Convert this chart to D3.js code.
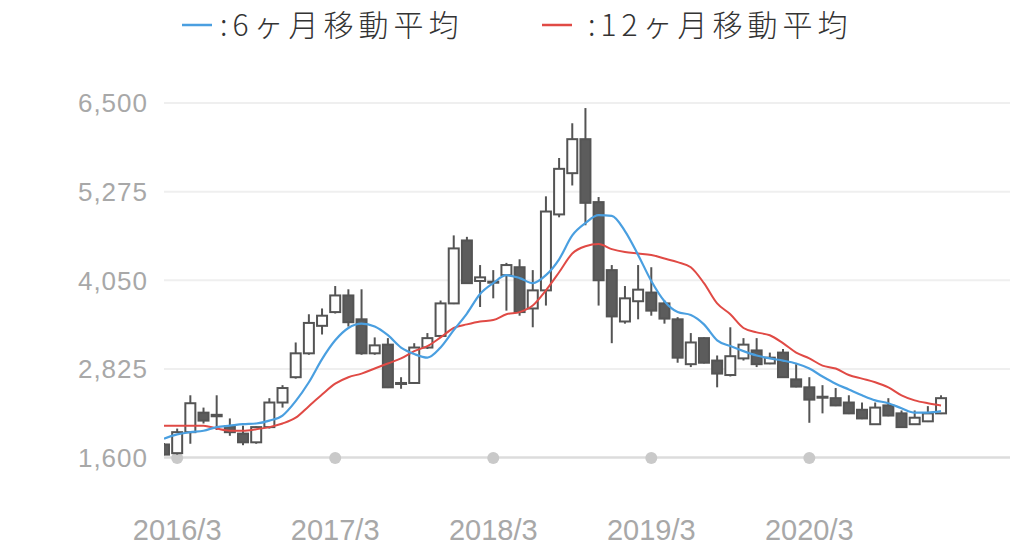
<!DOCTYPE html>
<html lang="ja">
<head>
    <meta charset="UTF-8" />
    <title>月足チャート</title>
    <script src="https://d3js.org/d3.v7.min.js"></script>
    <style>
        body { margin: 0; background: #fff; }
        svg { display: block; }
    </style>
</head>

<body>
    <script>
        // monthly candles 2016/2 .. 2021/1
        var months = [
            "2016/2","2016/3","2016/4","2016/5","2016/6","2016/7","2016/8","2016/9","2016/10","2016/11","2016/12",
            "2017/1","2017/2","2017/3","2017/4","2017/5","2017/6","2017/7","2017/8","2017/9","2017/10","2017/11","2017/12",
            "2018/1","2018/2","2018/3","2018/4","2018/5","2018/6","2018/7","2018/8","2018/9","2018/10","2018/11","2018/12",
            "2019/1","2019/2","2019/3","2019/4","2019/5","2019/6","2019/7","2019/8","2019/9","2019/10","2019/11","2019/12",
            "2020/1","2020/2","2020/3","2020/4","2020/5","2020/6","2020/7","2020/8","2020/9","2020/10","2020/11","2020/12",
            "2021/1"
        ];
        var openVals  = [1780,1660,1950,2220,2170,2030,1930,1810,2020,2360,2710,3040,3420,3610,3840,3510,3040,3160,2620,2630,3120,3280,3730,4600,4040,4020,4120,4230,3660,3910,4960,5530,6000,5130,4190,3480,3760,3880,3730,3510,2890,3250,2940,2740,2970,3080,2900,3050,2680,2570,2430,2420,2360,2260,2060,2320,2210,2060,2100,2210];
        var highVals  = [1800,2000,2460,2290,2460,2140,2040,2030,2420,2600,3190,3580,3660,3970,3925,3925,3260,3250,2710,3180,3320,3770,4670,4650,4260,4190,4290,4340,4190,5210,5740,6220,6430,5200,4260,3970,4260,4230,3770,3540,3320,3260,3010,3400,3250,3250,3050,3100,2890,2710,2600,2560,2460,2360,2360,2420,2250,2250,2310,2460];
        var lowVals   = [1630,1640,1790,2070,1980,1900,1770,1790,2000,2290,2690,3020,3300,3590,3410,3020,3020,2560,2550,2620,3100,3260,3720,4000,3680,3800,3630,3560,3400,3700,4920,5360,4810,3700,3180,3450,3510,3560,3450,2910,2850,2900,2570,2720,2940,2850,2890,2700,2570,2080,2210,2310,2200,2130,2050,2170,2010,2050,2090,2200];
        var closeVals = [1640,1950,2350,2110,2190,1950,1810,2020,2360,2560,3040,3460,3560,3840,3470,3040,3150,2570,2630,3120,3250,3730,4490,4010,4090,4030,4260,3610,3910,5000,5590,6000,5120,4050,3550,3800,3920,3630,3520,2980,3190,2910,2760,3000,3160,2890,2980,2710,2580,2400,2440,2320,2210,2140,2290,2180,2020,2150,2210,2420];

        // moving averages as drawn
        var ma6  = [1860,1920,1950,1970,2020,2040,2060,2070,2110,2180,2380,2640,2960,3220,3390,3450,3410,3290,3120,3030,2980,3120,3360,3590,3860,4010,4120,4080,4010,4120,4340,4670,4840,4950,4940,4730,4400,4040,3760,3610,3570,3440,3220,3140,3070,3010,2970,2940,2900,2830,2720,2620,2540,2460,2390,2350,2280,2220,2220,2240];
        var ma12 = [2040,2040,2040,2040,2000,1970,1970,1990,2020,2070,2150,2310,2470,2620,2710,2760,2830,2900,2970,3070,3140,3260,3390,3440,3480,3500,3580,3610,3700,3910,4160,4420,4520,4550,4480,4440,4420,4400,4350,4300,4230,4010,3730,3580,3390,3330,3290,3180,3050,2970,2870,2830,2740,2690,2640,2570,2460,2390,2350,2320];

        var yTicks = [1600, 2825, 4050, 5275, 6500];
        var xTickLabels = ["2016/3", "2017/3", "2018/3", "2019/3", "2020/3"];

        var legendNames = [":6ヶ月移動平均", ":12ヶ月移動平均"];
        var legendColors = ["#4a9fe0", "#e04a45"];

        var w = 1024;
        var h = 548;
        var plotLeft = 164;
        var plotRight = 1010;
        var plotTop = 95;
        var plotBottom = 458;
        var candleW = 10;
        var numFont = "'Liberation Sans', 'Noto Sans', sans-serif";
        var jpFont = "'Noto Sans CJK JP', sans-serif";

        var svg = d3.select("body")
            .append("svg")
            .attr("width", w)
            .attr("height", h);

        // Scales
        var xScale = d3.scalePoint()
            .domain(months)
            .range([plotLeft, plotLeft + 13.17 * (months.length - 1)]);

        var yScale = d3.scaleLinear()
            .domain([1600, 6500])
            .range([457.5, 103]);

        svg.append("clipPath")
            .attr("id", "plotClip")
            .append("rect")
            .attr("x", plotLeft)
            .attr("y", plotTop - 10)
            .attr("width", plotRight - plotLeft)
            .attr("height", plotBottom - plotTop + 12);

        // gridlines
        svg.selectAll(".grid")
            .data(yTicks)
            .enter()
            .append("line")
            .attr("class", "grid")
            .attr("x1", plotLeft)
            .attr("x2", plotRight)
            .attr("y1", function(d) { return yScale(d); })
            .attr("y2", function(d) { return yScale(d); })
            .attr("stroke", function(d) { return d === 1600 ? "#dcdcdc" : "#efefef"; })
            .attr("stroke-width", function(d) { return d === 1600 ? 2.5 : 2; });

        // y labels
        svg.selectAll(".ylab")
            .data(yTicks)
            .enter()
            .append("text")
            .attr("class", "ylab")
            .attr("x", 148)
            .attr("y", function(d) { return yScale(d); })
            .attr("dy", "0.36em")
            .attr("text-anchor", "end")
            .attr("fill", "#a8a8a8")
            .style("font-family", numFont)
            .style("font-size", "26px")
            .style("letter-spacing", "1px")
            .text(function(d) { return d3.format(",")(d); });

        // x tick dots + labels
        svg.selectAll(".xdot")
            .data(xTickLabels)
            .enter()
            .append("circle")
            .attr("class", "xdot")
            .attr("cx", function(d) { return xScale(d); })
            .attr("cy", plotBottom)
            .attr("r", 6)
            .attr("fill", "#c9c9c9");

        svg.selectAll(".xlab")
            .data(xTickLabels)
            .enter()
            .append("text")
            .attr("class", "xlab")
            .attr("x", function(d) { return xScale(d); })
            .attr("y", 540)
            .attr("text-anchor", "middle")
            .attr("fill", "#a8a8a8")
            .style("font-family", numFont)
            .style("font-size", "29px")
            .text(function(d) { return d; });

        // candles
        var candles = months.map(function(m, i) {
            return { m: m, o: openVals[i], h: highVals[i], l: lowVals[i], c: closeVals[i] };
        });

        var plot = svg.append("g").attr("clip-path", "url(#plotClip)");

        var cg = plot.selectAll(".candle")
            .data(candles)
            .enter()
            .append("g")
            .attr("class", "candle");

        cg.append("line")
            .attr("x1", function(d) { return xScale(d.m); })
            .attr("x2", function(d) { return xScale(d.m); })
            .attr("y1", function(d) { return yScale(d.h); })
            .attr("y2", function(d) { return yScale(d.l); })
            .attr("stroke", "#545454")
            .attr("stroke-width", 2);

        cg.append("rect")
            .attr("x", function(d) { return xScale(d.m) - candleW / 2; })
            .attr("y", function(d) { return yScale(Math.max(d.o, d.c)); })
            .attr("width", candleW)
            .attr("height", function(d) {
                return Math.max(1, Math.abs(yScale(d.o) - yScale(d.c)));
            })
            .attr("fill", function(d) { return d.c >= d.o ? "#ffffff" : "#5c5c5c"; })
            .attr("stroke", "#545454")
            .attr("stroke-width", 2);

        // moving average lines
        var line = d3.line()
            .x(function(d, i) { return xScale(months[i]); })
            .y(function(d) { return yScale(d); })
            .curve(d3.curveMonotoneX);

        plot.append("path")
            .datum(ma12)
            .attr("d", line)
            .attr("fill", "none")
            .attr("stroke", legendColors[1])
            .attr("stroke-width", 2);

        plot.append("path")
            .datum(ma6)
            .attr("d", line)
            .attr("fill", "none")
            .attr("stroke", legendColors[0])
            .attr("stroke-width", 2.2);

        // legend
        var legendX = [182, 542];
        var lg = svg.selectAll(".legend")
            .data(legendNames)
            .enter()
            .append("g")
            .attr("class", "legend")
            .attr("transform", function(d, i) { return "translate(" + legendX[i] + ",25)"; });

        lg.append("line")
            .attr("x1", 0)
            .attr("x2", 30)
            .attr("stroke", function(d, i) { return legendColors[i]; })
            .attr("stroke-width", 2.5);

        lg.append("text")
            .attr("x", function(d, i) { return i === 0 ? 38 : 46; })
            .attr("dy", "0.36em")
            .attr("fill", "#333")
            .style("font-family", jpFont)
            .style("font-weight", 300)
            .style("font-size", "30px")
            .style("letter-spacing", "5px")
            .text(function(d) { return d; });
    </script>
</body>
</html>
